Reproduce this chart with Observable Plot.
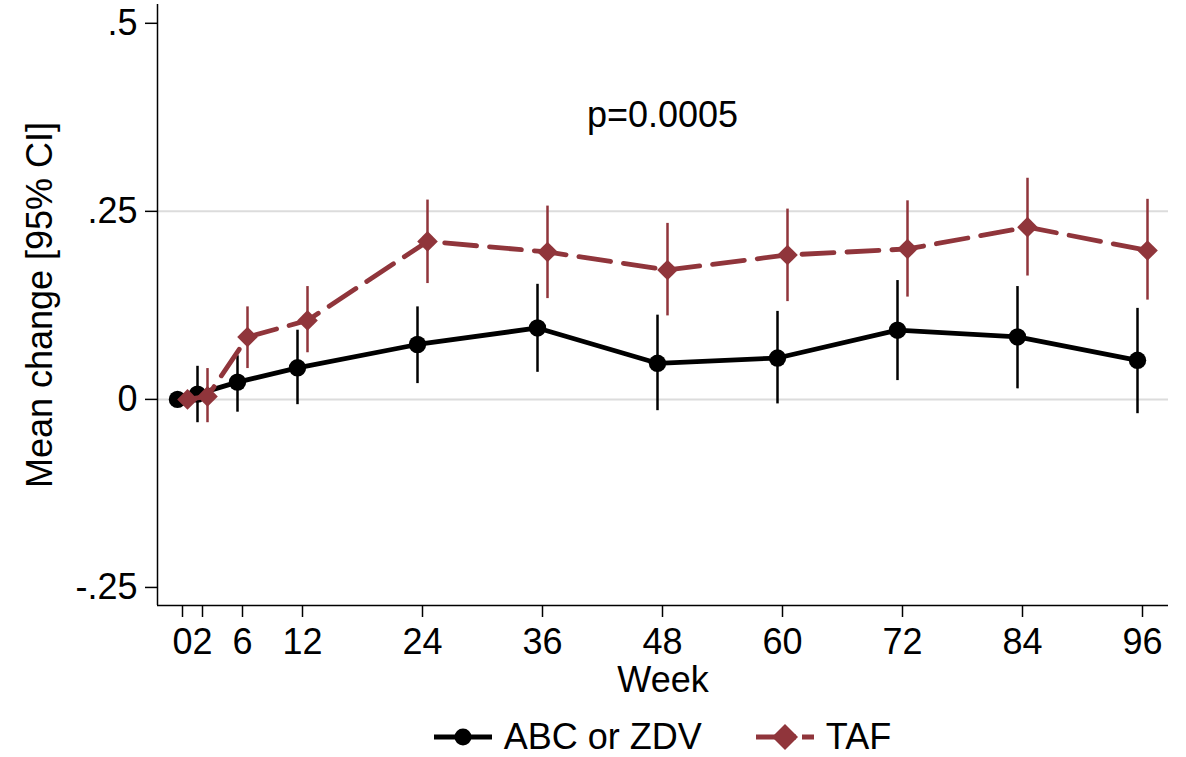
<!DOCTYPE html>
<html>
<head>
<meta charset="utf-8">
<script src="https://cdn.jsdelivr.net/npm/d3@7"></script>
<script src="https://cdn.jsdelivr.net/npm/@observablehq/plot@0.6"></script>
<style>
  body { margin: 0; background: #fff; font-family: "Liberation Sans", Arial, Helvetica, sans-serif; }
  #chart { width: 1186px; }
  .legend { margin-left: 157px; margin-top: 5px; width: 1011px; height: 40px; display: flex; justify-content: center; align-items: center; font-size: 36px; color: #000; }
  .legend .item { display: flex; align-items: center; }
  .legend svg { margin-right: 12px; }
</style>
</head>
<body>
<div id="chart"></div>
<script>
const weeks    = [0, 2, 6, 12, 24, 36, 48, 60, 72, 84, 96];
const abcMean  = [0, 0.007, 0.023, 0.042, 0.073, 0.095, 0.048, 0.055, 0.092, 0.083, 0.052];
const abcLower = [0, -0.031, -0.017, -0.007, 0.021, 0.036, -0.015, -0.006, 0.025, 0.014, -0.019];
const abcUpper = [0, 0.044, 0.058, 0.092, 0.123, 0.153, 0.112, 0.117, 0.158, 0.150, 0.121];
const tafMean  = [0, 0.004, 0.083, 0.105, 0.210, 0.196, 0.172, 0.192, 0.200, 0.229, 0.198];
const tafLower = [0, -0.031, 0.041, 0.062, 0.154, 0.134, 0.111, 0.130, 0.136, 0.164, 0.132];
const tafUpper = [0, 0.041, 0.123, 0.150, 0.265, 0.257, 0.234, 0.253, 0.264, 0.294, 0.266];
const seriesNames = ["ABC or ZDV", "TAF"];
const yTicks = [-0.25, 0, 0.25, 0.5];
const yTickLabels = ["-.25", "0", ".25", ".5"];
const gridValues = [0, 0.25];
const xDomain = [-2.5, 98.6];
const yDomain = [-0.274, 0.525];
const yLabel = "Mean change [95% CI]";
const xLabel = "Week";
const annotation = [{week: 48, value: 0.377, label: "p=0.0005"}];

const BLACK = "#000000";
const RED = "#90353B";

const abc = weeks.map((w, i) => ({week: w, mean: abcMean[i], lo: abcLower[i], hi: abcUpper[i]}));
const taf = weeks.map((w, i) => ({week: w, mean: tafMean[i], lo: tafLower[i], hi: tafUpper[i]}));
const ciAbc = abc.filter(d => d.hi !== d.lo);
const ciTaf = taf.filter(d => d.hi !== d.lo);

const font = '"Liberation Sans", Arial, Helvetica, sans-serif';
const FS = 36;

const chart = Plot.plot({
  width: 1186,
  height: 712,
  marginLeft: 157,
  marginRight: 18,
  marginTop: 4,
  marginBottom: 107,
  style: {fontFamily: font, fontSize: FS + "px", color: "#000", background: "#fff", overflow: "visible"},
  x: {domain: xDomain},
  y: {domain: yDomain},
  marks: [
    Plot.ruleY(gridValues, {stroke: "#dcdcdc", strokeWidth: 2}),
    Plot.ruleX([xDomain[0]], {stroke: "#000", strokeWidth: 1.5}),
    Plot.ruleY([yDomain[0]], {stroke: "#000", strokeWidth: 1.5}),
    Plot.axisY({ticks: yTicks, tickFormat: v => yTickLabels[yTicks.indexOf(v)], tickSize: 12, tickPadding: 8, fontSize: FS, label: null, strokeWidth: 1.5}),
    Plot.axisX({ticks: weeks, tickFormat: d => String(d), tickSize: 12, tickPadding: 11, fontSize: FS, label: null, strokeWidth: 1.5}),
    Plot.text([yLabel], {frameAnchor: "left", textAnchor: "middle", dx: -117, rotate: -90, fontSize: FS, fill: "#000"}),
    Plot.text([xLabel], {frameAnchor: "bottom", dy: 86, fontSize: FS, fill: "#000"}),
    Plot.text(annotation, {x: "week", y: "value", text: "label", fontSize: FS, fill: "#000"}),
    // ABC or ZDV
    Plot.ruleX(ciAbc, {x: "week", y1: "lo", y2: "hi", dx: -5, stroke: BLACK, strokeWidth: 2.5}),
    Plot.line(abc, {x: "week", y: "mean", dx: -5, stroke: BLACK, strokeWidth: 4.8}),
    Plot.dot(abc, {x: "week", y: "mean", dx: -5, r: 8.7, fill: BLACK, stroke: "none"}),
    // TAF
    Plot.ruleX(ciTaf, {x: "week", y1: "lo", y2: "hi", dx: 5, stroke: RED, strokeWidth: 2.5}),
    Plot.line(taf, {x: "week", y: "mean", dx: 5, stroke: RED, strokeWidth: 4.8, strokeDasharray: "32,13"}),
    Plot.dot(taf, {x: "week", y: "mean", dx: 5, r: 9.3, symbol: "diamond2", fill: RED, stroke: "none"})
  ]
});
document.getElementById("chart").appendChild(chart);

// Legend
const legend = document.createElement("div");
legend.className = "legend";
const items = [
  {name: seriesNames[0], color: BLACK, dash: null, sym: "circle"},
  {name: seriesNames[1], color: RED, dash: "40,6,12", sym: "diamond"}
];
items.forEach((it, k) => {
  const div = document.createElement("div");
  div.className = "item";
  if (k > 0) div.style.marginLeft = "54px";
  const ns = "http://www.w3.org/2000/svg";
  const svg = document.createElementNS(ns, "svg");
  svg.setAttribute("width", 58);
  svg.setAttribute("height", 30);
  const line = document.createElementNS(ns, "line");
  line.setAttribute("x1", 0); line.setAttribute("x2", 58);
  line.setAttribute("y1", 15); line.setAttribute("y2", 15);
  line.setAttribute("stroke", it.color); line.setAttribute("stroke-width", 4.8);
  if (it.dash) line.setAttribute("stroke-dasharray", it.dash);
  svg.appendChild(line);
  if (it.sym === "circle") {
    const c = document.createElementNS(ns, "circle");
    c.setAttribute("cx", 29); c.setAttribute("cy", 15); c.setAttribute("r", 8.5);
    c.setAttribute("fill", it.color);
    svg.appendChild(c);
  } else {
    const p = document.createElementNS(ns, "path");
    p.setAttribute("d", "M29,2 L42,15 L29,28 L16,15 Z");
    p.setAttribute("fill", it.color);
    svg.appendChild(p);
  }
  div.appendChild(svg);
  const span = document.createElement("span");
  span.textContent = it.name;
  div.appendChild(span);
  legend.appendChild(div);
});
document.body.appendChild(legend);
</script>
</body>
</html>
